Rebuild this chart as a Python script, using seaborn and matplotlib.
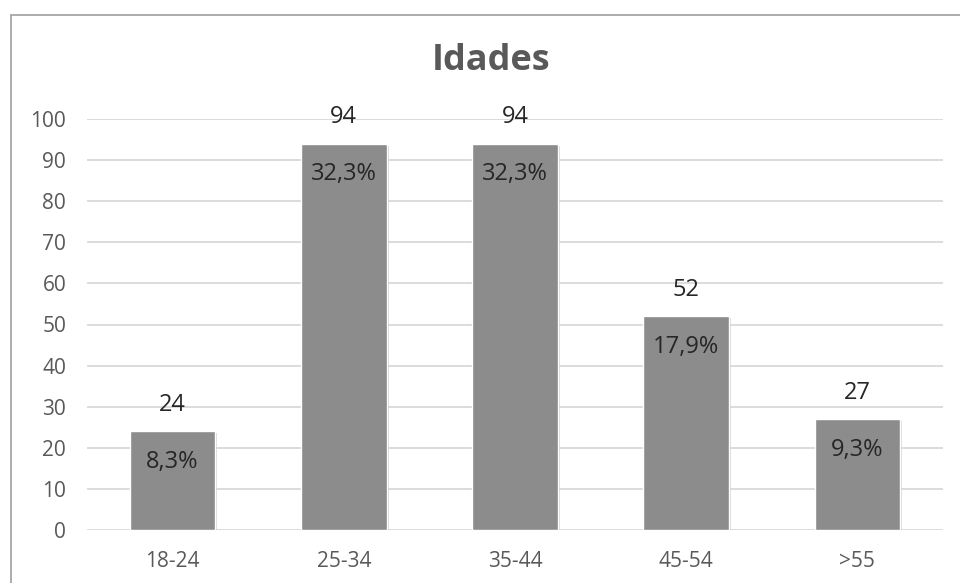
import matplotlib
matplotlib.use("Agg")
import matplotlib.pyplot as plt
import matplotlib.patheffects as pe
from matplotlib.lines import Line2D
import seaborn as sns
import pandas as pd

categories = ["18-24", "25-34", "35-44", "45-54", ">55"]
counts = [24, 94, 94, 52, 27]
percentages = [8.3, 32.3, 32.3, 17.9, 9.3]
y_ticks = [0, 10, 20, 30, 40, 50, 60, 70, 80, 90, 100]

sns.set_theme(style="white")
plt.rcParams["font.family"] = ["Open Sans", "DejaVu Sans"]

df = pd.DataFrame({"faixa": categories, "n": counts})

fig = plt.figure(figsize=(9.6, 5.83), dpi=100)
ax = fig.add_axes([87 / 960, 1 - 530 / 583, (943 - 87) / 960, (530 - 119) / 583])

BAR = "#8c8c8c"
GRID = "#d9d9d9"
TICK = "#595959"

sns.barplot(data=df, x="faixa", y="n", color=BAR, saturation=1, width=0.5, ax=ax, zorder=3)

for patch in ax.patches:
    patch.set_path_effects([pe.SimplePatchShadow(offset=(1.5, -1.5), shadow_rgbFace="#bfbfbf", alpha=0.6), pe.Normal()])

ax.set_ylim(0, 100)
ax.set_xlim(-0.5, len(categories) - 0.5)
ax.set_yticks(y_ticks)
ax.yaxis.grid(True, color=GRID, linewidth=1.3, zorder=0)
ax.set_axisbelow(True)
for s in ax.spines.values():
    s.set_visible(False)

ax.tick_params(axis="y", length=0, pad=15, labelsize=15, labelcolor=TICK)
ax.tick_params(axis="x", length=0, pad=15, labelsize=15, labelcolor=TICK)
ax.set_xlabel("")
ax.set_ylabel("")

for i, (c, p) in enumerate(zip(counts, percentages)):
    ax.annotate(f"{c}", (i, c), xytext=(0, 19), textcoords="offset points",
                ha="center", va="center", fontsize=17, color="#262626")
    ax.annotate(f"{p:.1f}%".replace(".", ","), (i, c), xytext=(0, -22), textcoords="offset points",
                ha="center", va="center", fontsize=17, color="#262626")

fig.text(491 / 960, 1 - 61 / 583, "Idades", ha="center", va="center",
         fontsize=26, fontweight="bold", color=TICK)

# chart frame: top and left edges
fx, fy = 11 / 960, 1 - 15 / 583
fig.add_artist(Line2D([fx, fx], [0, fy], color="#a6a6a6", linewidth=1.3))
fig.add_artist(Line2D([fx, 1], [fy, fy], color="#a6a6a6", linewidth=1.3))

fig.savefig("out.png", dpi=100, facecolor="white")
